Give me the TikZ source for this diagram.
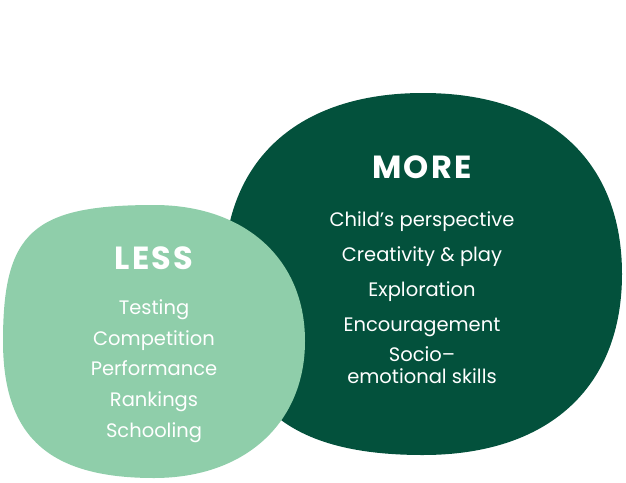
\documentclass[tikz,border=0pt]{standalone}
\usepackage{fontspec}
\setmainfont{Poppins}
\definecolor{moregreen}{HTML}{03513C}
\definecolor{lessgreen}{HTML}{8FCEAA}
\tikzset{
  head/.style={text=white,anchor=base,font=\bfseries\fontsize{32}{32}\selectfont\addfontfeatures{LetterSpace=7}},
  item/.style={text=white,anchor=base,font=\fontsize{19.5}{22}\selectfont}
}
\begin{document}
\begin{tikzpicture}[x=1pt,y=-1pt]
   \useasboundingbox (0,0) rectangle (626,482);
   %more blob
   \fill[moregreen] (423,93) .. controls (548,93) and (622,160) .. (622,274)
      .. controls (622,388) and (548,455) .. (423,455)
      .. controls (284,455) and (224,401) .. (224,274)
      .. controls (224,160) and (298,93) .. cycle;
   %less blob
   \fill[lessgreen] (154,205) .. controls (245,205) and (305,259) .. (305,341)
      .. controls (305,423) and (245,478) .. (154,478)
      .. controls (48,478) and (3,436) .. (3,341)
      .. controls (3,232) and (33,205) .. cycle;
   %more text
   \node[head] (more) at (422,178.5) {MORE};
   \node[item] (child) at (422,226.5) {Child’s perspective};
   \node[item] (creat) at (422,261.5) {Creativity \& play};
   \node[item] (explo) at (422,296.5) {Exploration};
   \node[item] (encou) at (422,331) {Encouragement};
   \node[item] (socio) at (422,361.5) {Socio–};
   \node[item] (emot) at (422,383.5) {emotional skills};
   %less text
   \node[head] (less) at (154,269.5) {LESS};
   \node[item] (test) at (154,314) {Testing};
   \node[item] (comp) at (154,345) {Competition};
   \node[item] (perf) at (154,375.5) {Performance};
   \node[item] (rank) at (154,406.5) {Rankings};
   \node[item] (scho) at (154,437.5) {Schooling};
\end{tikzpicture}
\end{document}
